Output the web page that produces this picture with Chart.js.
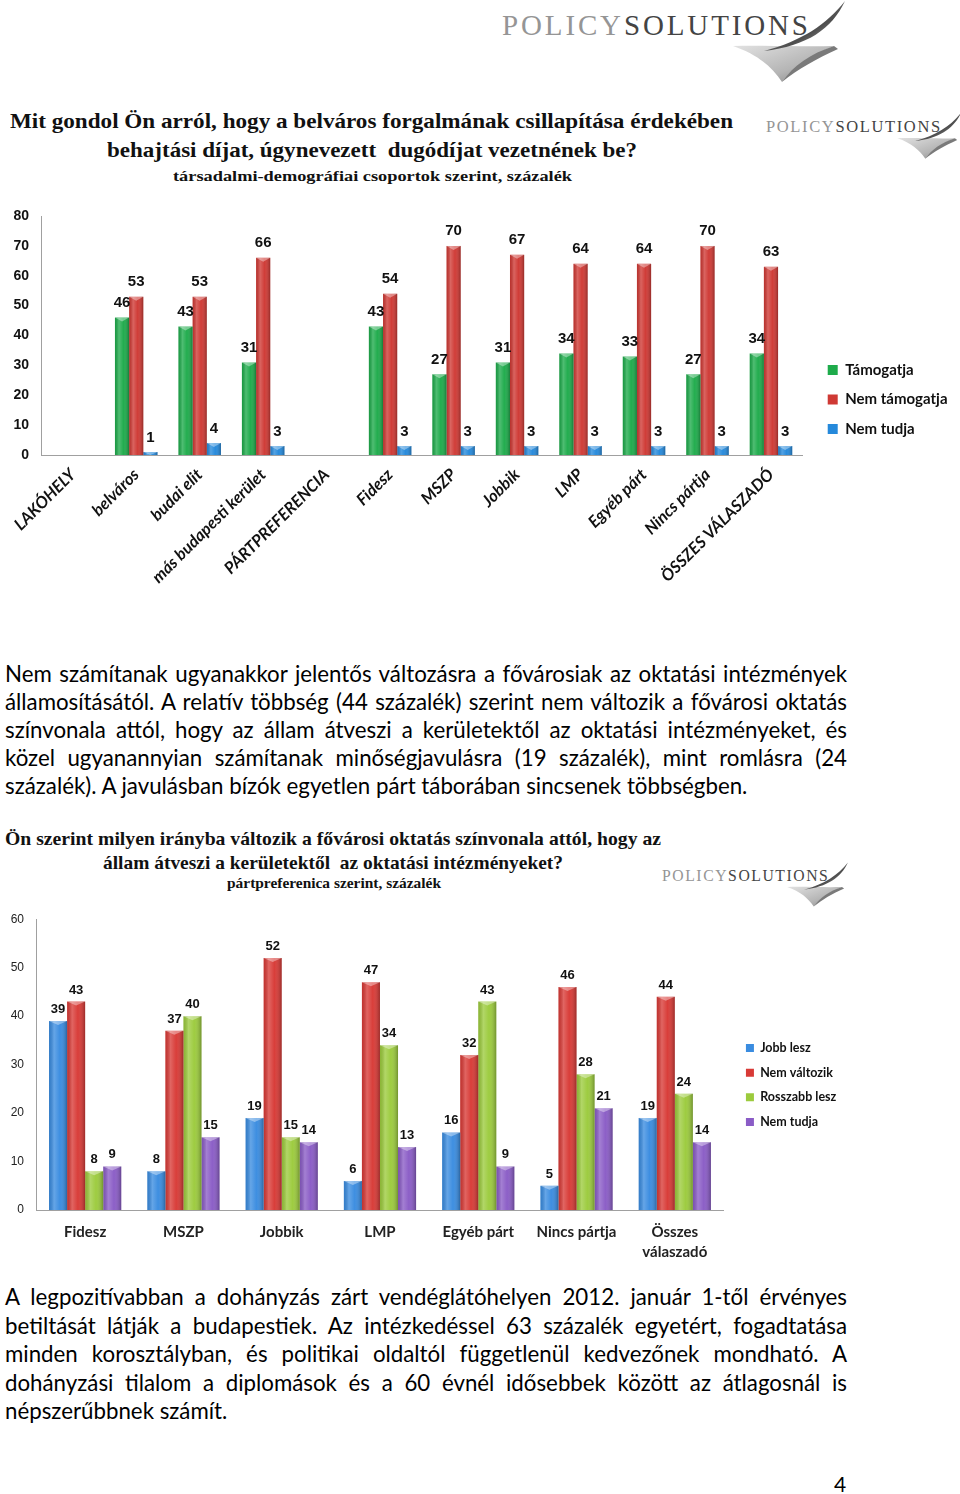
<!DOCTYPE html>
<html lang="hu"><head><meta charset="utf-8"><title>Policy Solutions</title>
<script src="https://cdn.jsdelivr.net/npm/chart.js@4.4.1/dist/chart.umd.min.js"></script>
<style>
html,body{margin:0;padding:0;background:#fff;}
body{width:960px;height:1494px;position:relative;overflow:hidden;font-family:Lato,sans-serif;}
.abs{position:absolute;}
.tl{position:absolute;white-space:nowrap;font-family:"Liberation Serif",serif;font-weight:bold;color:#111;transform-origin:left center;line-height:1;}
.para{position:absolute;left:5px;width:842px;font-family:Lato,sans-serif;font-size:20px;color:#000;}
.para div{white-space:nowrap;text-align:justify;text-align-last:justify;}
.para div.last{text-align-last:left;}
</style></head>
<body>
<svg id="logos" class="abs" width="960" height="1494" style="left:0;top:0;pointer-events:none">
  <defs>
    <linearGradient id="gA" x1="0" y1="0" x2="1" y2="1"><stop offset="0" stop-color="#9a9a9a"/><stop offset="0.6" stop-color="#4e4e4e"/><stop offset="1" stop-color="#bdbdbd"/></linearGradient>
    <linearGradient id="gB" x1="0" y1="0" x2="1" y2="1"><stop offset="0" stop-color="#e2e2e2"/><stop offset="0.6" stop-color="#b5b5b5"/><stop offset="1" stop-color="#7d7d7d"/></linearGradient>
  </defs>
</svg>

<div class="tl" style="left:10px;top:110px;font-size:22px" data-w="723">Mit gondol Ön arról, hogy a belváros forgalmának csillapítása érdekében</div>
<div class="tl" style="left:107px;top:139px;font-size:22px" data-w="530">behajtási díjat, úgynevezett&nbsp; dugódíjat vezetnének be?</div>
<div class="tl" style="left:173px;top:168.5px;font-size:15px" data-w="399">társadalmi-demográfiai csoportok szerint, százalék</div>

<div class="abs" style="left:0;top:195px;width:960px;height:410px"><canvas id="c1"></canvas></div>

<div class="para" id="p1" style="top:660px;line-height:28px">
<div>Nem számítanak ugyanakkor jelentős változásra a fővárosiak az oktatási intézmények</div>
<div>államosításától. A relatív többség (44 százalék) szerint nem változik a fővárosi oktatás</div>
<div>színvonala attól, hogy az állam átveszi a kerületektől az oktatási intézményeket, és</div>
<div>közel ugyanannyian számítanak minőségjavulásra (19 százalék), mint romlásra (24</div>
<div class="last">százalék). A javulásban bízók egyetlen párt táborában sincsenek többségben.</div>
</div>

<div class="tl" style="left:5px;top:828.5px;font-size:19px" data-w="656">Ön szerint milyen irányba változik a fővárosi oktatás színvonala attól, hogy az</div>
<div class="tl" style="left:103px;top:852.5px;font-size:19px" data-w="460">állam átveszi a kerületektől&nbsp; az oktatási intézményeket?</div>
<div class="tl" style="left:227px;top:877px;font-size:14px" data-w="214">pártpreferenica szerint, százalék</div>

<div class="abs" style="left:0;top:900px;width:960px;height:363px"><canvas id="c2"></canvas></div>

<div class="para" id="p2" style="top:1283px;line-height:28.5px">
<div>A legpozitívabban a dohányzás zárt vendéglátóhelyen 2012. január 1-től érvényes</div>
<div>betiltását látják a budapestiek. Az intézkedéssel 63 százalék egyetért, fogadtatása</div>
<div>minden korosztályban, és politikai oldaltól függetlenül kedvezőnek mondható. A</div>
<div>dohányzási tilalom a diplomások és a 60 évnél idősebbek között az átlagosnál is</div>
<div class="last">népszerűbbnek számít.</div>
</div>

<div class="abs" style="left:834px;top:1471px;font:21px Lato,sans-serif;color:#000">4</div>

<script>
// ---------- DATA ----------
const cats1 = ['LAKÓHELY','belváros','budai elit','más budapesti kerület','PÁRTPREFERENCIA','Fidesz','MSZP','Jobbik','LMP','Egyéb párt','Nincs pártja','ÖSSZES VÁLASZADÓ'];
const tamogatja    = [null,46,43,31,null,43,27,31,34,33,27,34];
const nemTamogatja = [null,53,53,66,null,54,70,67,64,64,70,63];
const nemTudja1    = [null,1,4,3,null,3,3,3,3,3,3,3];
const series1 = ['Támogatja','Nem támogatja','Nem tudja'];
const yTicks1 = [0,10,20,30,40,50,60,70,80];

const cats2 = ['Fidesz','MSZP','Jobbik','LMP','Egyéb párt','Nincs pártja',['Összes','válaszadó']];
const jobbLesz     = [39,8,19,6,16,5,19];
const nemValtozik  = [43,37,52,47,32,46,44];
const rosszabbLesz = [8,40,15,34,43,28,24];
const nemTudja2    = [9,15,14,13,9,21,14];
const series2 = ['Jobb lesz','Nem változik','Rosszabb lesz','Nem tudja'];
const yTicks2 = [0,10,20,30,40,50,60];

// ---------- logos ----------
function logo(tx,ty,s){
  return `<g transform="translate(${tx},${ty}) scale(${s})">
  <path d="M280,83 C270,68 255,55 231,47 C262,46 300,48 332,47 C310,56 292,68 280,83 Z" fill="url(#gB)"/>
  <path d="M280,83 C292,66 308,55 332,47 L336,50 C314,60 296,70 280,83 Z" fill="#7a7a7a"/>
  <path d="M343,2 C325,25 300,42 262,52 C305,47 330,30 343,2 Z" fill="url(#gA)"/>
  <text x="0" y="36" font-family="Liberation Serif, serif" font-size="29" textLength="306" lengthAdjust="spacing"><tspan fill="#959595">POLICY</tspan><tspan fill="#444">SOLUTIONS</tspan></text>
  </g>`;
}
document.getElementById('logos').insertAdjacentHTML('beforeend',
  logo(502,-1,1) + logo(766,111.5,0.569) + logo(662,861.5,0.542));

// ---------- text fitting ----------
function measure(text,font){
  const c=measure.c||(measure.c=document.createElement('canvas').getContext('2d'));
  c.font=font; return c.measureText(text).width;
}
document.querySelectorAll('.tl').forEach(el=>{
  const w=+el.dataset.w; const m=el.getBoundingClientRect().width;
  el.style.transform='scaleX('+(w/m)+')';
});
(function(){
  const r1=746/measure(document.querySelector('#p1 .last').textContent,'20px Lato');
  const r2=222/measure(document.querySelector('#p2 .last').textContent,'20px Lato');
  const fs=20*(r1+r2)/2;
  document.querySelectorAll('.para').forEach(p=>p.style.fontSize=fs+'px');
  document.querySelectorAll('.para div').forEach(d=>{
    const w=measure(d.textContent,fs+'px Lato');
    if(w>840){ d.style.letterSpacing=((840-w)/d.textContent.length)+'px'; }
  });
})();

// ---------- plugins ----------
const barShade={
  id:'barShade',
  afterDatasetsDraw(chart){
    const ctx=chart.ctx;
    chart.data.datasets.forEach((ds,i)=>{
      const meta=chart.getDatasetMeta(i);
      meta.data.forEach((el,j)=>{
        if(ds.data[j]==null) return;
        const p=el.getProps(['x','y','base','width'],true);
        const l=p.x-p.width/2, r=p.x+p.width/2, h=p.base-p.y;
        const g=ctx.createLinearGradient(l,0,r,0);
        g.addColorStop(0,'rgba(0,0,0,0.10)');
        g.addColorStop(0.28,'rgba(255,255,255,0.22)');
        g.addColorStop(0.6,'rgba(255,255,255,0.02)');
        g.addColorStop(1,'rgba(0,0,0,0.28)');
        ctx.save();
        ctx.fillStyle=g; ctx.fillRect(l,p.y,p.width,h);
        ctx.beginPath(); ctx.moveTo(l,p.y); ctx.lineTo(r,p.y); ctx.lineTo(p.x,p.y+Math.min(4,h)); ctx.closePath();
        ctx.fillStyle='rgba(255,255,255,0.38)'; ctx.fill();
        ctx.restore();
      });
    });
  }
};
const valueLabels={
  id:'valueLabels',
  afterDatasetsDraw(chart,args,opts){
    const ctx=chart.ctx; ctx.save();
    ctx.font=opts.font; ctx.fillStyle=opts.color; ctx.textAlign='center'; ctx.textBaseline='alphabetic';
    chart.data.datasets.forEach((ds,i)=>{
      chart.getDatasetMeta(i).data.forEach((el,j)=>{
        const v=ds.data[j]; if(v==null) return;
        ctx.fillText(String(v), el.x, el.y-opts.offset);
      });
    });
    ctx.restore();
  }
};
const legendNudge={
  id:'legendNudge',
  afterLayout(chart,args,opts){
    const lg=chart.legend; if(!lg) return;
    const dx=opts.dx||0, dy=opts.dy||0;
    lg.left+=dx; lg.right+=dx; lg.top+=dy; lg.bottom+=dy;
  }
};

// ---------- chart 1 ----------
new Chart(document.getElementById('c1'),{
  type:'bar',
  data:{labels:cats1,datasets:[
    {label:series1[0],data:tamogatja,backgroundColor:'#1eab4b'},
    {label:series1[1],data:nemTamogatja,backgroundColor:'#cf3934'},
    {label:series1[2],data:nemTudja1,backgroundColor:'#2589db'}]},
  options:{
    responsive:true,maintainAspectRatio:false,animation:false,
    layout:{padding:{top:21,bottom:0,right:13,left:0}},
    datasets:{bar:{categoryPercentage:0.67,barPercentage:1}},
    scales:{
      x:{grid:{display:false,drawTicks:false},border:{display:true,color:'#a0a0a0',width:1},
        ticks:{autoSkip:false,maxRotation:45,minRotation:45,padding:10,color:'#111',
          font:{family:'Lato',size:16.5,weight:'bold',style:'italic'}},
        afterFit:s=>{s.height=150;}},
      y:{min:0,max:80,grid:{display:false,drawTicks:false},border:{display:true,color:'#a0a0a0',width:1},
        afterBuildTicks:s=>{s.ticks=yTicks1.map(v=>({value:v}));},
        ticks:{padding:12,color:'#111',font:{family:'Liberation Sans',size:14,weight:'bold'}},
        afterFit:s=>{s.width=41;}}
    },
    plugins:{
      legend:{position:'right',align:'center',labels:{boxWidth:10,boxHeight:10,padding:14.5,color:'#111',
        font:{family:'Lato',size:15,weight:'bold'}}},
      tooltip:{enabled:false},
      valueLabels:{font:'bold 15px "Liberation Sans"',color:'#111',offset:10.5},
      legendNudge:{dx:10.5,dy:-11}
    }
  },
  plugins:[barShade,valueLabels,legendNudge]
});

// ---------- chart 2 ----------
new Chart(document.getElementById('c2'),{
  type:'bar',
  data:{labels:cats2,datasets:[
    {label:series2[0],data:jobbLesz,backgroundColor:'#3a8ce0'},
    {label:series2[1],data:nemValtozik,backgroundColor:'#d83a36'},
    {label:series2[2],data:rosszabbLesz,backgroundColor:'#9ccb3d'},
    {label:series2[3],data:nemTudja2,backgroundColor:'#8a5cc6'}]},
  options:{
    responsive:true,maintainAspectRatio:false,animation:false,
    layout:{padding:{top:17,bottom:0,right:123.5,left:0}},
    datasets:{bar:{categoryPercentage:0.735,barPercentage:1}},
    scales:{
      x:{grid:{display:false,drawTicks:false},border:{display:true,color:'#a0a0a0',width:1},
        ticks:{autoSkip:false,maxRotation:0,minRotation:0,padding:12,color:'#222',
          font:{family:'Lato',size:15,weight:'bold',lineHeight:1.33}},
        afterFit:s=>{s.height=53;}},
      y:{min:0,max:60,grid:{display:false,drawTicks:false},border:{display:true,color:'#a0a0a0',width:1},
        afterBuildTicks:s=>{s.ticks=yTicks2.map(v=>({value:v}));},
        ticks:{padding:12,color:'#222',font:{family:'Liberation Sans',size:12}},
        afterFit:s=>{s.width=36;}}
    },
    plugins:{
      legend:{position:'right',align:'center',labels:{boxWidth:8,boxHeight:8,padding:12.2,color:'#111',
        font:{family:'Lato',size:12.5,weight:'bold'}}},
      tooltip:{enabled:false},
      valueLabels:{font:'bold 13px "Liberation Sans"',color:'#111',offset:8},
      legendNudge:{dx:9.8,dy:-5}
    }
  },
  plugins:[barShade,valueLabels,legendNudge]
});
</script>
</body></html>
